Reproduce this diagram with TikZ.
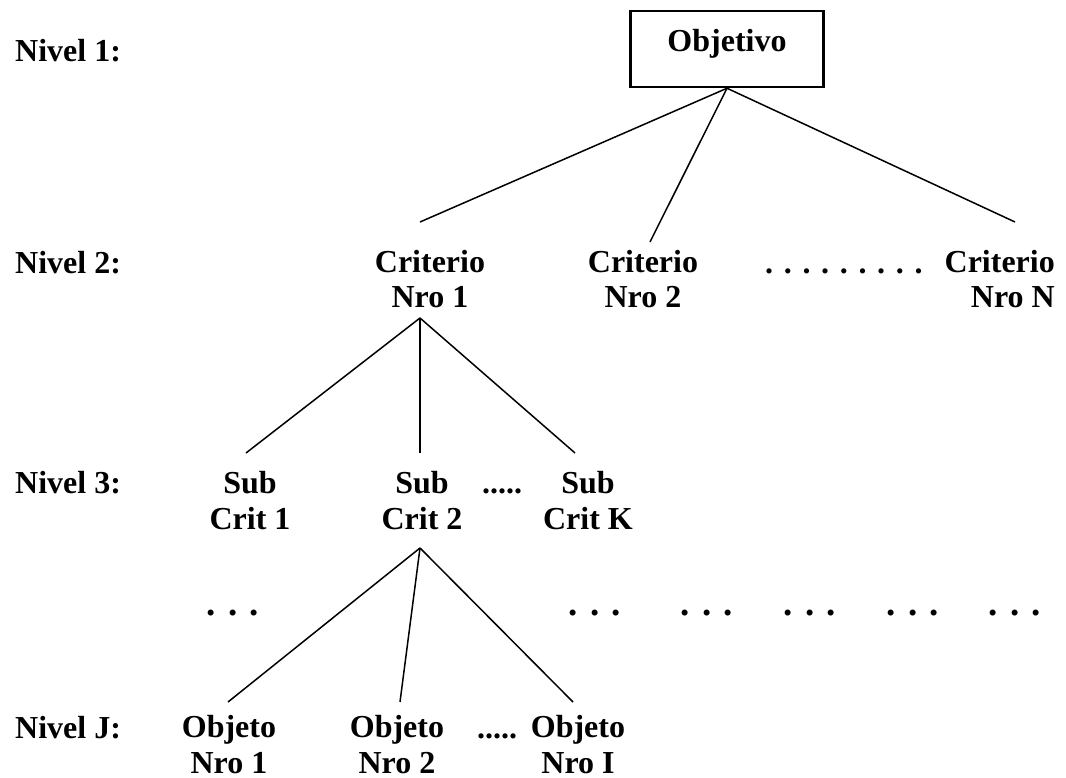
\documentclass[tikz,border=0pt]{standalone}
\usepackage{fontspec}
\setmainfont{Liberation Serif}
\usetikzlibrary{positioning}

\begin{document}
\begin{tikzpicture}[x=1pt, y=-1pt,
      lbl/.style={font=\fontsize{32}{35.5}\selectfont\bfseries, align=center,
                  inner sep=0pt, anchor=base},
      lvl/.style={lbl, anchor=base west},
      gap/.style={font=\fontsize{37}{40}\selectfont\bfseries, inner sep=0pt, anchor=base},
      obox/.style={lbl, draw, line width=2.5pt, minimum width=193pt,
                   minimum height=76pt, text height=22pt, text depth=16pt,
                   anchor=center},
      conn/.style={line width=1.5pt},
    ]
    \useasboundingbox (0,0) rectangle (1066,778);

    % level labels
    \node[lvl] (lv1) at (15,62)  {Nivel 1:};
    \node[lvl] (lv2) at (15,273) {Nivel 2:};
    \node[lvl] (lv3) at (15,493) {Nivel 3:};
    \node[lvl] (lvJ) at (15,738) {Nivel J:};

    % nodes (multi-line ones sit on the baseline of their last line)
    \node[obox] (obj) at (727,49) {Objetivo};
    \node[lbl] (crit1) at (430,308) {Criterio\\Nro 1};
    \node[lbl] (crit2) at (643,308) {Criterio\\Nro 2};
    \node[lbl, anchor=base west] (critdots) at (765,273) {. . . . . . . . .};
    \node[lbl, align=right, anchor=base east] (critN) at (1055,308) {Criterio\\Nro N};
    \node[lbl] (sub1) at (250,529) {Sub\\Crit 1};
    \node[lbl] (sub2) at (422,529) {Sub\\Crit 2};
    \node[lbl, anchor=base west] (subdots) at (482,493) {.....};
    \node[lbl] (subK) at (588,529) {Sub\\Crit K};
    \node[gap] (g1) at (233,615)  {. . .};
    \node[gap] (g2) at (595,615)  {. . .};
    \node[gap] (g3) at (707,615)  {. . .};
    \node[gap] (g4) at (810,615)  {. . .};
    \node[gap] (g5) at (913,615)  {. . .};
    \node[gap] (g6) at (1015,615) {. . .};
    \node[lbl] (obj1) at (229,773) {Objeto\\Nro 1};
    \node[lbl] (obj2) at (397,773) {Objeto\\Nro 2};
    \node[lbl, anchor=base west] (objdots) at (477,738) {.....};
    \node[lbl] (objI) at (578,773) {Objeto\\Nro I};

    % connector ends
    \coordinate (t21) at (420,222);
    \coordinate (t22) at (650,242);
    \coordinate (t2N) at (1015,222);
    \coordinate (a1)  at (420,318);
    \coordinate (t31) at (246,453);
    \coordinate (t32) at (420,453);
    \coordinate (t3K) at (575,453);
    \coordinate (a2)  at (420,548);
    \coordinate (t41) at (228,702);
    \coordinate (t42) at (400,702);
    \coordinate (t4I) at (573,702);

    \draw[conn] (obj.south) -- (t21);
    \draw[conn] (obj.south) -- (t22);
    \draw[conn] (obj.south) -- (t2N);
    \draw[conn] (a1) -- (t31);
    \draw[conn] (a1) -- (t32);
    \draw[conn] (a1) -- (t3K);
    \draw[conn] (a2) -- (t41);
    \draw[conn] (a2) -- (t42);
    \draw[conn] (a2) -- (t4I);
  \end{tikzpicture}
\end{document}
